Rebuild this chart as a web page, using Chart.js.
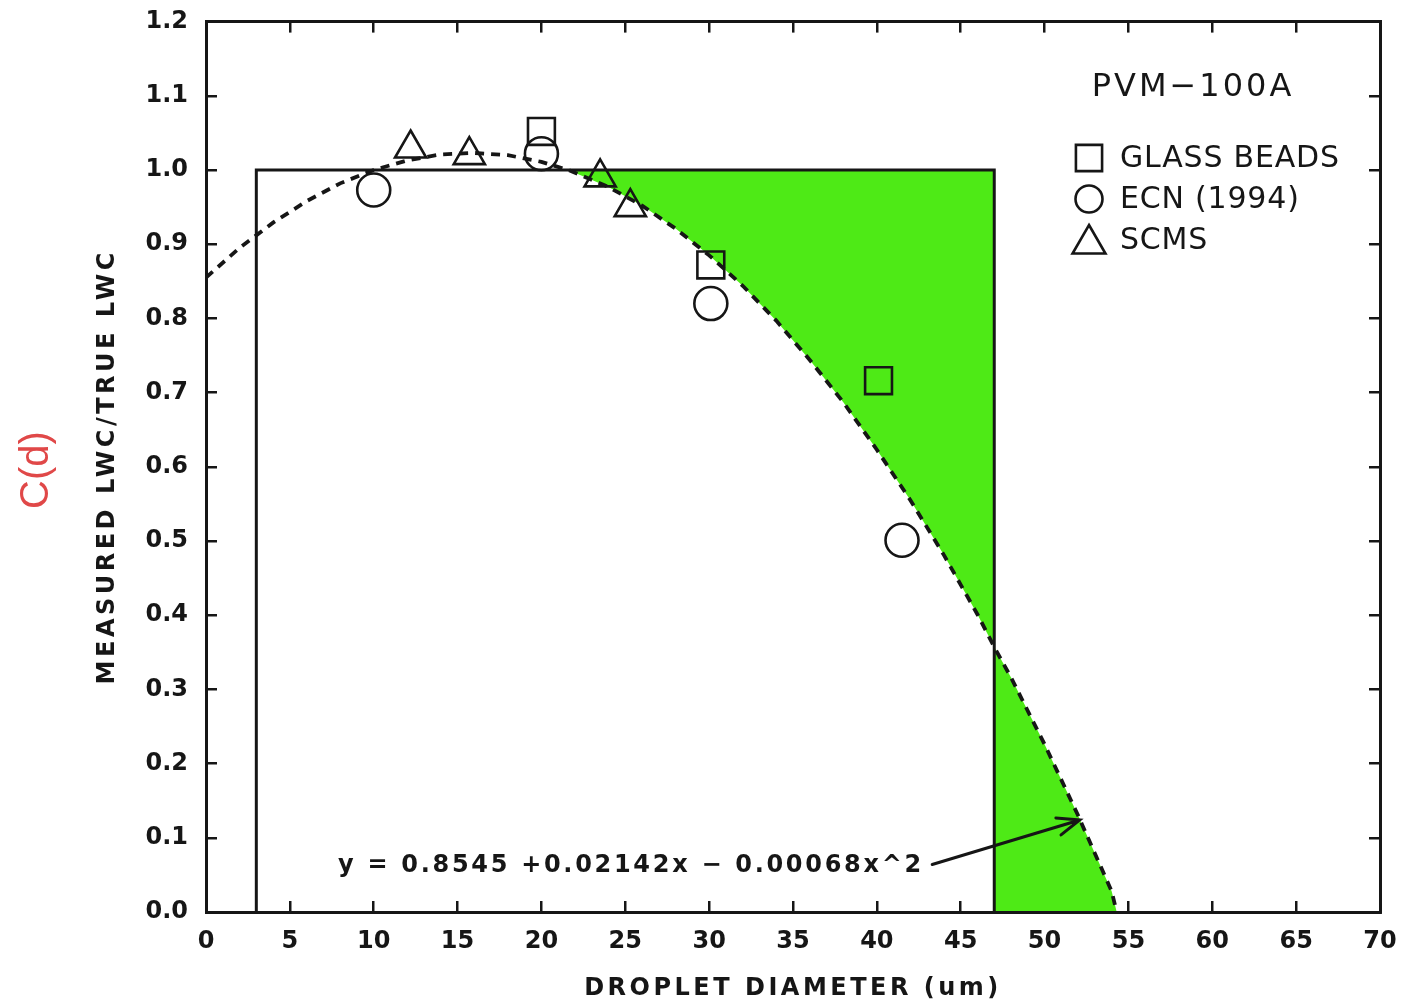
<!DOCTYPE html>
<html>
<head>
<meta charset="utf-8">
<title>PVM-100A measured / true LWC</title>
<script src="https://cdn.jsdelivr.net/npm/chart.js@4.4.1/dist/chart.umd.min.js"></script>
<style>
  html, body { margin: 0; padding: 0; background: #fff; }
  #wrap { position: relative; width: 1403px; height: 1007px; }
</style>
</head>
<body>
<div id="wrap"><canvas id="lwcChart"></canvas></div>
<script>
// Axis ticks
const xTickValues = [0, 5, 10, 15, 20, 25, 30, 35, 40, 45, 50, 55, 60, 65, 70];
const xTickLabels = ['0', '5', '10', '15', '20', '25', '30', '35', '40', '45', '50', '55', '60', '65', '70'];
const yTickValues = [0, 0.1, 0.2, 0.3, 0.4, 0.5, 0.6, 0.7, 0.8, 0.9, 1.0, 1.1, 1.2];
const yTickLabels = ['0.0', '0.1', '0.2', '0.3', '0.4', '0.5', '0.6', '0.7', '0.8', '0.9', '1.0', '1.1', '1.2'];

// Dashed fit curve
const curveX = [0, 2, 4, 6, 8, 10, 12, 14, 16, 18, 20, 21.6, 24, 26, 28, 30, 32, 34, 36, 38, 40, 42, 44, 46, 47, 48, 50, 52, 54, 54.3];
const curveY = [0.855, 0.895, 0.929, 0.958, 0.982, 1.000, 1.013, 1.021, 1.023, 1.020, 1.011, 1.000, 0.977, 0.952, 0.921, 0.885, 0.844, 0.797, 0.744, 0.687, 0.623, 0.555, 0.481, 0.401, 0.357, 0.316, 0.226, 0.130, 0.028, 0.0];

// Ideal response box (3 - 47 um)
const boxX = [3, 3, 47, 47];
const boxY = [0, 1.0, 1.0, 0];

// Outer edge of the green region (the rest of its outline is the curve)
const shadeEdgeX = [21.6, 47, 47, 54.3];
const shadeEdgeY = [1.0, 1.0, 0, 0];

// Measurements
const glassX = [20, 30.1, 40.1];
const glassY = [1.052, 0.872, 0.716];
const ecnX = [10, 20, 30.1, 41.5];
const ecnY = [0.973, 1.022, 0.820, 0.501];
const scmsX = [12.2, 15.7, 23.5, 25.3];
const scmsY = [1.029, 1.020, 0.990, 0.950];

const seriesNames = ['GLASS BEADS', 'ECN (1994)', 'SCMS'];

const ink = '#161616';
const green = 'rgb(78, 234, 22)';
const family = "'DejaVu Sans', sans-serif";

function toPoints(xs, ys) {
    return xs.map((x, i) => ({ x: x, y: ys[i] }));
}

// closed outline: box edge, then back along the curve
function shadeOutline() {
    const pts = toPoints(shadeEdgeX, shadeEdgeY);
    const first = shadeEdgeX[0];
    const last = shadeEdgeX[shadeEdgeX.length - 1];
    for (let i = curveX.length - 1; i >= 0; i--) {
        if (curveX[i] > first && curveX[i] < last) pts.push({ x: curveX[i], y: curveY[i] });
    }
    return pts;
}

function markerSet(label, xs, ys, style, radius) {
    return {
        label: label,
        data: toPoints(xs, ys),
        showLine: false,
        pointStyle: style,
        pointRadius: radius,
        pointHoverRadius: radius,
        pointBorderWidth: 2.6,
        pointBorderColor: ink,
        pointBackgroundColor: 'rgba(0,0,0,0)',
        borderColor: ink
    };
}

function gridOpts() {
    return { drawOnChartArea: false, drawTicks: true, tickLength: -11, color: ink, lineWidth: 2.5 };
}

function borderOpts() {
    return { display: true, color: ink, width: 3, z: 1 };
}

function fixSize(w, h) {
    return function (s) {
        if (w !== null) s.width = w;
        if (h !== null) s.height = h;
        s.paddingTop = 0; s.paddingBottom = 0; s.paddingLeft = 0; s.paddingRight = 0;
    };
}

const tickFont = { family: family, size: 24, weight: 'bold' };
const titleFont = { family: family, size: 24, weight: 'bold' };

// titles are spaced out, tick labels are not
const spacingPlugin = {
    id: 'spacing',
    beforeDraw(chart) { chart.ctx.letterSpacing = '3.5px'; },
    beforeDatasetsDraw(chart) { chart.ctx.letterSpacing = '0px'; }
};

const legendRadius = { rect: 18.5, circle: 13.5, triangle: 19 };

function drawSymbol(ctx, style, r, x, y) {
    if (Chart.helpers && Chart.helpers.drawPoint) {
        Chart.helpers.drawPoint(ctx, { pointStyle: style, radius: r, rotation: 0, borderWidth: 2.6 }, x, y);
        return;
    }
    ctx.beginPath();
    if (style === 'circle') ctx.arc(x, y, r, 0, Math.PI * 2);
    else if (style === 'rect') { const s = r * Math.SQRT1_2; ctx.rect(x - s, y - s, 2 * s, 2 * s); }
    else {
        ctx.moveTo(x, y - r);
        ctx.lineTo(x + Math.sin(2 * Math.PI / 3) * r, y + r / 2);
        ctx.lineTo(x - Math.sin(2 * Math.PI / 3) * r, y + r / 2);
        ctx.closePath();
    }
    ctx.stroke();
}

const arrowFrom = [43.3, 0.064];
const arrowTo = [52.1, 0.124];

const notesPlugin = {
    id: 'notes',
    afterDraw(chart) {
        const ctx = chart.ctx;
        const xs = chart.scales.x;
        const ys = chart.scales.y;
        ctx.save();
        ctx.fillStyle = ink;
        ctx.strokeStyle = ink;
        ctx.textBaseline = 'middle';

        ctx.font = '32px ' + family;
        ctx.letterSpacing = '3px';
        ctx.textAlign = 'center';
        ctx.fillText('PVM\u2212100A', 1193, 88);

        // legend
        const rows = [158, 199, 240];
        const sets = chart.data.datasets.slice(0, 3);
        ctx.font = '30px ' + family;
        ctx.letterSpacing = '0.8px';
        ctx.textAlign = 'left';
        sets.forEach((ds, i) => {
            ctx.save();
            ctx.lineWidth = 2.6;
            ctx.fillStyle = 'rgba(0,0,0,0)';
            const yy = ds.pointStyle === 'triangle' ? rows[i] + 4 : rows[i];
            drawSymbol(ctx, ds.pointStyle, legendRadius[ds.pointStyle], 1089, yy);
            ctx.restore();
            ctx.fillText(seriesNames[i], 1120, rows[i] + 1);
        });

        // fit equation with arrow to the curve
        ctx.font = 'bold 24px ' + family;
        ctx.letterSpacing = '2.7px';
        ctx.fillText('y = 0.8545 +0.02142x \u2212 0.00068x^2', 338, 866);

        const x1 = xs.getPixelForValue(arrowFrom[0]);
        const y1 = ys.getPixelForValue(arrowFrom[1]);
        const x2 = xs.getPixelForValue(arrowTo[0]);
        const y2 = ys.getPixelForValue(arrowTo[1]);
        const ang = Math.atan2(y2 - y1, x2 - x1);
        ctx.lineWidth = 3;
        ctx.lineCap = 'round';
        ctx.beginPath();
        ctx.moveTo(x1, y1);
        ctx.lineTo(x2, y2);
        ctx.moveTo(x2 - 24 * Math.cos(ang - 0.38), y2 - 24 * Math.sin(ang - 0.38));
        ctx.lineTo(x2, y2);
        ctx.lineTo(x2 - 24 * Math.cos(ang + 0.38), y2 - 24 * Math.sin(ang + 0.38));
        ctx.stroke();

        // C(d) label
        ctx.save();
        ctx.translate(37, 470);
        ctx.rotate(-Math.PI / 2);
        ctx.fillStyle = '#e04848';
        ctx.font = "40px 'Liberation Sans', sans-serif";
        ctx.letterSpacing = '0px';
        ctx.textAlign = 'center';
        ctx.fillText('C(d)', 0, 0);
        ctx.restore();

        ctx.restore();
    }
};

function renderChart() {
    const canvas = document.getElementById('lwcChart');

    new Chart(canvas, {
        type: 'line',
        data: {
            datasets: [
                markerSet(seriesNames[0], glassX, glassY, 'rect', 19),
                markerSet(seriesNames[1], ecnX, ecnY, 'circle', 16.5),
                markerSet(seriesNames[2], scmsX, scmsY, 'triangle', 18),
                {
                    label: 'fit',
                    data: toPoints(curveX, curveY),
                    borderColor: ink,
                    borderWidth: 3.8,
                    borderDash: [9, 7],
                    pointRadius: 0,
                    tension: 0,
                    fill: false
                },
                {
                    label: 'box',
                    data: toPoints(boxX, boxY),
                    borderColor: ink,
                    borderWidth: 3,
                    pointRadius: 0,
                    tension: 0,
                    fill: false
                },
                {
                    label: 'shade',
                    data: shadeOutline(),
                    borderColor: 'rgba(0,0,0,0)',
                    borderWidth: 1,
                    backgroundColor: green,
                    pointRadius: 0,
                    tension: 0,
                    fill: 'shape'
                }
            ]
        },
        options: {
            responsive: true,
            maintainAspectRatio: false,
            animation: false,
            devicePixelRatio: 1,
            events: [],
            layout: { padding: { left: 0, top: 18, right: 23, bottom: 0 } },
            plugins: {
                legend: { display: false },
                tooltip: { enabled: false }
            },
            scales: {
                x: {
                    type: 'linear',
                    position: 'bottom',
                    min: 0,
                    max: 70,
                    afterBuildTicks: s => { s.ticks = xTickValues.map(v => ({ value: v })); },
                    afterFit: fixSize(null, 95),
                    grid: gridOpts(),
                    border: borderOpts(),
                    ticks: {
                        z: 1,
                        padding: 26,
                        font: tickFont,
                        color: ink,
                        autoSkip: false,
                        maxRotation: 0,
                        callback: (v, i) => xTickLabels[i]
                    },
                    title: {
                        display: true,
                        text: 'DROPLET DIAMETER (um)',
                        font: titleFont,
                        color: ink,
                        padding: { top: 0, bottom: 4 }
                    }
                },
                y: {
                    type: 'linear',
                    position: 'left',
                    min: 0,
                    max: 1.2,
                    afterBuildTicks: s => { s.ticks = yTickValues.map(v => ({ value: v })); },
                    afterFit: fixSize(206, null),
                    grid: gridOpts(),
                    border: borderOpts(),
                    ticks: {
                        z: 1,
                        padding: 29,
                        font: tickFont,
                        color: ink,
                        autoSkip: false,
                        callback: (v, i) => yTickLabels[i]
                    },
                    title: {
                        display: true,
                        text: 'MEASURED LWC/TRUE LWC',
                        font: titleFont,
                        color: ink,
                        padding: { top: 93, bottom: 0 }
                    }
                },
                x2: {
                    type: 'linear',
                    position: 'top',
                    min: 0,
                    max: 70,
                    afterBuildTicks: s => { s.ticks = xTickValues.map(v => ({ value: v })); },
                    afterFit: fixSize(null, 0),
                    grid: gridOpts(),
                    border: borderOpts(),
                    ticks: { display: false }
                },
                y2: {
                    type: 'linear',
                    position: 'right',
                    min: 0,
                    max: 1.2,
                    afterBuildTicks: s => { s.ticks = yTickValues.map(v => ({ value: v })); },
                    afterFit: fixSize(0, null),
                    grid: gridOpts(),
                    border: borderOpts(),
                    ticks: { display: false }
                }
            }
        },
        plugins: [spacingPlugin, notesPlugin]
    });
}

renderChart();
</script>
</body>
</html>
